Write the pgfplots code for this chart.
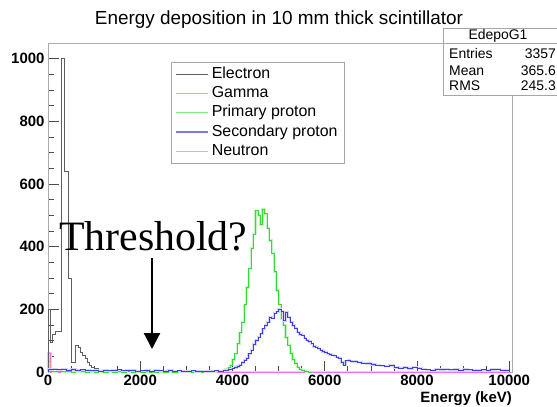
\documentclass[border=0pt]{standalone}
\usepackage{fontspec}
\setmainfont{Liberation Sans}
\newfontfamily\timesfont{Liberation Serif}
\usepackage{pgfplots}
\pgfplotsset{compat=1.18}
\usetikzlibrary{arrows.meta}
\definecolor{elec}{RGB}{95,95,95}
\definecolor{gam}{RGB}{240,140,140}
\definecolor{prim}{RGB}{50,220,50}
\definecolor{sec}{RGB}{60,60,240}
\definecolor{neut}{RGB}{240,110,240}
\definecolor{gamleg}{RGB}{245,160,160}
\definecolor{primleg}{RGB}{130,235,130}
\definecolor{secleg}{RGB}{120,120,240}
\definecolor{neutleg}{RGB}{240,160,240}
\begin{document}
\begin{tikzpicture}[x=1bp,y=1bp]
\path[use as bounding box] (0,0) rectangle (557,406);
\begin{axis}[
  at={(48bp,34bp)}, anchor=south west,
  width=464bp, height=329bp, scale only axis,
  xmin=0, xmax=10060, ymin=0, ymax=1050,
  clip=false,
  axis line style={draw=gray!65, line width=0.9bp},
  xtick={0,2000,...,10000}, ytick={0,200,...,1000},
  minor x tick num=3, minor y tick num=3,
  tick align=inside, tick pos=left,
  major tick length=11bp, minor tick length=6bp,
  every tick/.style={draw=gray!60!black, line width=0.7bp},
  tick label style={font=\fontsize{15}{18}\selectfont\bfseries},
  /pgf/number format/assume math mode=true,
  /pgf/number format/1000 sep={},
  scaled ticks=false,
  const plot mark left,
  legend image code/.code={\draw[#1] (0bp,0bp) -- (32bp,0bp);},
  legend cell align=left,
  legend style={at={(axis description cs:0.265,0.942)}, anchor=north west,
    draw=gray!70, fill=white, line width=0.8bp,
    font=\fontsize{16}{18}\selectfont,
    inner xsep=3.5bp, inner ysep=2bp, row sep=0bp,
    nodes={inner ysep=2.15bp, inner xsep=3.5bp, text height=11.5bp, text depth=3.5bp}},
]
\addlegendimage{draw=elec, line width=1bp}
\addlegendentry{Electron}
\addlegendimage{draw=gamleg, line width=1.4bp}
\addlegendentry{Gamma}
\addlegendimage{draw=primleg, line width=1.4bp}
\addlegendentry{Primary proton}
\addlegendimage{draw=secleg, line width=1.4bp}
\addlegendentry{Secondary proton}
\addlegendimage{draw=neutleg, line width=1.4bp}
\addlegendentry{Neutron}

% Neutron
\addplot[neut!40!white, line width=2.6bp, forget plot] coordinates {(0,0)(0,60)(50,0)(10000,0)};
\addplot[neut, line width=1bp, forget plot] coordinates {(0,0)(0,60)(50,0)(10000,0)};
% Gamma
\addplot[gam, line width=0.8bp, forget plot] coordinates {(0,0)(0,35)(50,0)(200,0)};
% Electron
\addplot[elec, line width=0.8bp, forget plot] coordinates {
(0,0)(0,200)(50,95)(100,120)(150,130)(300,1000)(350,640)(450,300)(500,32)(600,85)
(650,77)(700,62)(750,52)(800,42)(850,30)(900,20)(950,15)(1000,10)(1100,6)(1200,3)
(1400,1)(1600,0)};
% Primary proton
\addplot[prim!30!white, line width=2.2bp, forget plot] coordinates {
(0,0)(0,2)(100,1)(200,2)(300,1)(400,1)(500,0)(600,1)(700,1)(800,0)(900,1)(1000,0)
(1100,1)(1200,0)(1300,1)(1400,0)(1500,1)(1600,0)(1700,1)(1800,0)(1900,1)(2000,0)
(2100,1)(2200,0)(2300,0)(2400,1)(2500,0)(2600,1)(2700,0)(2800,1)(2900,0)(3000,1)
(3100,0)(3200,1)(3300,0)(3400,1)(3500,1)(3600,1)(3650,2)(3700,3)(3750,4)(3800,6)
(3850,9)(3900,14)(3950,22)(4000,40)(4050,58)(4100,90)(4150,125)(4200,160)(4250,215)
(4300,270)(4350,330)(4400,395)(4450,440)(4500,515)(4550,500)(4600,470)(4650,520)
(4700,505)(4750,460)(4800,420)(4850,380)(4900,320)(4950,260)(5000,215)(5050,170)
(5100,150)(5150,110)(5200,85)(5250,60)(5300,40)(5350,28)(5400,16)(5450,10)(5500,5)
(5550,2)(5600,1)(5650,0)(5700,0)};
\addplot[prim, line width=0.7bp, forget plot] coordinates {
(0,0)(0,2)(100,1)(200,2)(300,1)(400,1)(500,0)(600,1)(700,1)(800,0)(900,1)(1000,0)
(1100,1)(1200,0)(1300,1)(1400,0)(1500,1)(1600,0)(1700,1)(1800,0)(1900,1)(2000,0)
(2100,1)(2200,0)(2300,0)(2400,1)(2500,0)(2600,1)(2700,0)(2800,1)(2900,0)(3000,1)
(3100,0)(3200,1)(3300,0)(3400,1)(3500,1)(3600,1)(3650,2)(3700,3)(3750,4)(3800,6)
(3850,9)(3900,14)(3950,22)(4000,40)(4050,58)(4100,90)(4150,125)(4200,160)(4250,215)
(4300,270)(4350,330)(4400,395)(4450,440)(4500,515)(4550,500)(4600,470)(4650,520)
(4700,505)(4750,460)(4800,420)(4850,380)(4900,320)(4950,260)(5000,215)(5050,170)
(5100,150)(5150,110)(5200,85)(5250,60)(5300,40)(5350,28)(5400,16)(5450,10)(5500,5)
(5550,2)(5600,1)(5650,0)(5700,0)};
% Secondary proton
\addplot[sec!22!white, line width=2.4bp, forget plot] coordinates {
(0,0)(0,8)(100,10)(200,7)(300,9)(400,6)(500,8)(600,5)(700,7)(800,6)(900,4)(1000,5)
(1100,3)(1200,6)(1300,4)(1400,5)(1500,7)(1600,4)(1700,6)(1800,5)(1900,3)(2000,4)
(2100,6)(2200,3)(2300,5)(2400,4)(2500,3)(2600,5)(2700,3)(2800,4)(2900,2)(3000,3)
(3100,4)(3200,2)(3300,3)(3400,2)(3500,3)(3600,4)(3700,3)(3800,4)(3850,6)(3900,7)
(3950,9)(4000,12)(4050,14)(4100,17)(4150,22)(4200,30)(4250,38)(4300,45)(4350,58)
(4400,70)(4450,88)(4500,100)(4550,112)(4600,122)(4650,138)(4700,148)(4750,160)
(4800,175)(4850,172)(4900,188)(4950,192)(5000,200)(5050,195)(5100,165)(5150,190)
(5200,175)(5250,160)(5300,148)(5350,140)(5400,128)(5450,120)(5500,118)(5550,108)
(5600,102)(5650,98)(5700,90)(5750,82)(5800,80)(5850,75)(5900,70)(5950,66)(6000,62)
(6050,58)(6100,56)(6150,54)(6200,52)(6250,48)(6300,44)(6350,30)(6400,22)(6450,36)
(6500,38)(6550,35)(6600,34)(6700,32)(6800,28)(6900,27)(7000,24)(7100,22)(7200,20)
(7300,19)(7400,21)(7500,15)(7600,12)(7700,14)(7800,11)(7900,16)(8000,12)(8100,9)
(8200,7)(8300,6)(8400,9)(8500,8)(8600,10)(8700,7)(8800,8)(8900,6)(9000,8)(9100,7)
(9200,6)(9300,5)(9400,7)(9500,6)(9600,8)(9700,9)(9800,6)(9900,5)(10000,5)};
\addplot[sec, line width=0.7bp, forget plot] coordinates {
(0,0)(0,8)(100,10)(200,7)(300,9)(400,6)(500,8)(600,5)(700,7)(800,6)(900,4)(1000,5)
(1100,3)(1200,6)(1300,4)(1400,5)(1500,7)(1600,4)(1700,6)(1800,5)(1900,3)(2000,4)
(2100,6)(2200,3)(2300,5)(2400,4)(2500,3)(2600,5)(2700,3)(2800,4)(2900,2)(3000,3)
(3100,4)(3200,2)(3300,3)(3400,2)(3500,3)(3600,4)(3700,3)(3800,4)(3850,6)(3900,7)
(3950,9)(4000,12)(4050,14)(4100,17)(4150,22)(4200,30)(4250,38)(4300,45)(4350,58)
(4400,70)(4450,88)(4500,100)(4550,112)(4600,122)(4650,138)(4700,148)(4750,160)
(4800,175)(4850,172)(4900,188)(4950,192)(5000,200)(5050,195)(5100,165)(5150,190)
(5200,175)(5250,160)(5300,148)(5350,140)(5400,128)(5450,120)(5500,118)(5550,108)
(5600,102)(5650,98)(5700,90)(5750,82)(5800,80)(5850,75)(5900,70)(5950,66)(6000,62)
(6050,58)(6100,56)(6150,54)(6200,52)(6250,48)(6300,44)(6350,30)(6400,22)(6450,36)
(6500,38)(6550,35)(6600,34)(6700,32)(6800,28)(6900,27)(7000,24)(7100,22)(7200,20)
(7300,19)(7400,21)(7500,15)(7600,12)(7700,14)(7800,11)(7900,16)(8000,12)(8100,9)
(8200,7)(8300,6)(8400,9)(8500,8)(8600,10)(8700,7)(8800,8)(8900,6)(9000,8)(9100,7)
(9200,6)(9300,5)(9400,7)(9500,6)(9600,8)(9700,9)(9800,6)(9900,5)(10000,5)};

\node[anchor=north east, inner sep=0pt, font=\fontsize{15}{18}\selectfont\bfseries]
  at (rel axis cs:1,0) [yshift=-19bp] {Energy (keV)};
\end{axis}
% title
\node[anchor=base, inner sep=0pt, font=\fontsize{19}{22}\selectfont] at (279,382)
  {Energy deposition in 10 mm thick scintillator};
% stats box
\draw[gray!70, line width=0.8bp, fill=white] (443,311) rectangle (565,378);
\draw[gray!70, line width=0.8bp] (443,363) -- (565,363);
\node[anchor=base, inner sep=0pt, font=\fontsize{14}{16}\selectfont] at (498,367) {EdepoG1};
\node[anchor=base west, inner sep=0pt, font=\fontsize{14}{16}\selectfont] at (449,348) {Entries};
\node[anchor=base west, inner sep=0pt, font=\fontsize{14}{16}\selectfont] at (449,331) {Mean};
\node[anchor=base west, inner sep=0pt, font=\fontsize{14}{16}\selectfont] at (449,316) {RMS};
\node[anchor=base east, inner sep=0pt, font=\fontsize{14}{16}\selectfont] at (556,348) {3357};
\node[anchor=base east, inner sep=0pt, font=\fontsize{14}{16}\selectfont] at (556,331) {365.6};
\node[anchor=base east, inner sep=0pt, font=\fontsize{14}{16}\selectfont] at (556,316) {245.3};
% threshold annotation
\node[anchor=base west, inner sep=0pt, font=\timesfont\fontsize{42}{46}\selectfont] at (59,156) {Threshold?};
\draw[line width=2.2bp, -{Triangle[length=16bp,width=16bp]}] (152,148) -- (152,57);
\end{tikzpicture}
\end{document}
